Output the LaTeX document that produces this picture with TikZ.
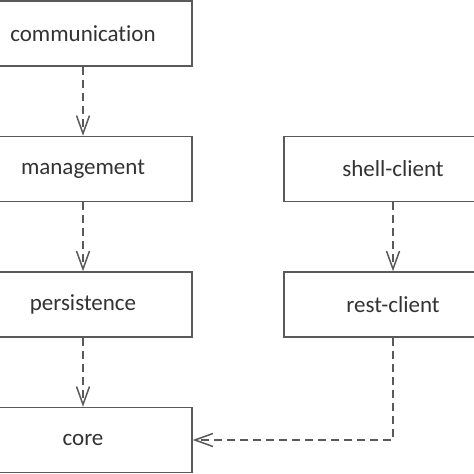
\documentclass[tikz,border=0pt]{standalone}
\usepackage{fontspec}
\setmainfont{Carlito}[Ligatures=NoCommon]
\usetikzlibrary{arrows.meta}
\definecolor{edgegray}{HTML}{5A5A5A}
\definecolor{txtgray}{HTML}{333333}
\begin{document}
\begin{tikzpicture}[x=1pt,y=-1pt,
 box/.style={draw=edgegray, line width=1.5pt, fill=white, minimum width=218pt, minimum height=65pt, inner sep=0pt, text=txtgray, font=\fontsize{23}{26}\selectfont},
 dep/.style={draw=edgegray, line width=1.5pt, dash pattern=on 8pt off 5pt, -{Straight Barb[length=18pt,width=13pt,line width=1.5pt]}}]
\useasboundingbox (0,0) rectangle (474,474);
\clip (0,0) rectangle (474,474);
\fill[white] (0,0) rectangle (474,474);
\node[box] (comm) at (83,33.5) {communication};
\node[box] (mgmt) at (83,169) {management};
\node[box] (pers) at (83,304.5) {persistence};
\node[box] (core) at (83,440) {core};
\node[box] (shell) at (393,169) {shell-client};
\node[box] (rest) at (393,304.5) {rest-client};
\draw[dep] (comm) -- (mgmt);
\draw[dep] (mgmt) -- (pers);
\draw[dep] (pers) -- (core);
\draw[dep] (shell) -- (rest);
\draw[dep] (rest.south) -- (rest.south |- core.east) -- (core.east);
\end{tikzpicture}
\end{document}
